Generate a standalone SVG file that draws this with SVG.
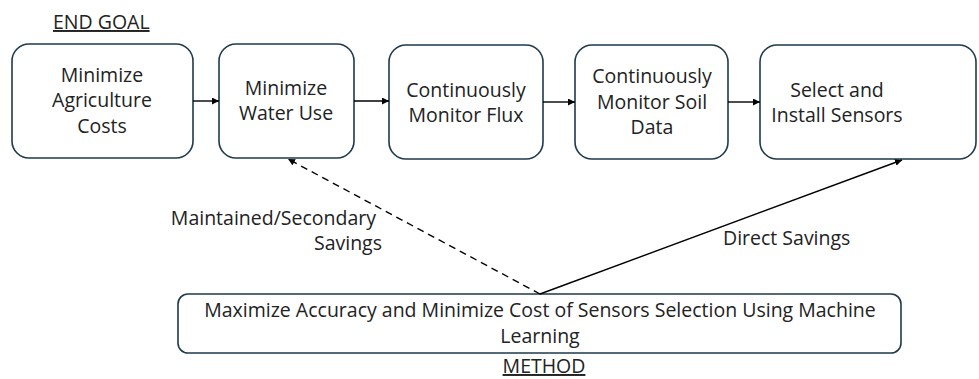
<svg xmlns="http://www.w3.org/2000/svg" width="979" height="379" viewBox="0 0 979 379">
<defs>
<marker id="ah" viewBox="0 0 10 10" refX="10" refY="5" markerWidth="7" markerHeight="7" markerUnits="userSpaceOnUse" orient="auto">
<path d="M0,0 L10,5 L0,10 Z" fill="#000"/>
</marker>
</defs>
<style>
.box{fill:#fff;stroke:#1e3a4c;stroke-width:1.6}
.t{font-family:"Open Sans","Liberation Sans",sans-serif;font-size:19.5px;fill:#222;text-anchor:middle}
.l{font-family:"Open Sans","Liberation Sans",sans-serif;font-size:19.5px;fill:#222}
.c{stroke:#000;stroke-width:1.4;fill:none}
</style>
<rect width="979" height="379" fill="#fff"/>
<text class="l" x="53" y="29" text-decoration="underline">END GOAL</text>
<text class="l" x="544" y="373" text-anchor="middle" text-decoration="underline">METHOD</text>
<g id="n1"><rect class="box" x="12" y="44" width="181" height="114" rx="17"/>
<text class="t" x="102" y="82">Minimize</text><text class="t" x="102" y="107">Agriculture</text><text class="t" x="102" y="133">Costs</text></g>
<g id="n2"><rect class="box" x="219" y="44" width="135" height="114" rx="17"/>
<text class="t" x="286" y="95">Minimize</text><text class="t" x="286" y="120">Water Use</text></g>
<g id="n3"><rect class="box" x="389" y="45" width="154" height="114" rx="17"/>
<text class="t" x="466" y="97">Continuously</text><text class="t" x="466" y="122">Monitor Flux</text></g>
<g id="n4"><rect class="box" x="575" y="45" width="153" height="114" rx="17"/>
<text class="t" x="652" y="83">Continuously</text><text class="t" x="652" y="109">Monitor Soil</text><text class="t" x="652" y="134">Data</text></g>
<g id="n5"><rect class="box" x="760" y="45" width="216" height="114" rx="17"/>
<text class="t" x="837" y="97">Select and</text><text class="t" x="837" y="122">Install Sensors</text></g>
<g id="n6"><rect class="box" x="178" y="294" width="723" height="59" rx="10"/>
<text class="t" x="540" y="317">Maximize Accuracy and Minimize Cost of Sensors Selection Using Machine</text>
<text class="t" x="540" y="343">Learning</text></g>
<g id="connectors">
<line class="c" x1="193" y1="101" x2="219" y2="101" marker-end="url(#ah)"/>
<line class="c" x1="354" y1="101" x2="389" y2="101" marker-end="url(#ah)"/>
<line class="c" x1="543" y1="102" x2="575" y2="102" marker-end="url(#ah)"/>
<line class="c" x1="728" y1="102" x2="760" y2="102" marker-end="url(#ah)"/>
<line class="c" x1="540" y1="294" x2="288" y2="159" stroke-dasharray="7,5" marker-end="url(#ah)"/>
<line class="c" x1="540" y1="294" x2="902" y2="160" marker-end="url(#ah)"/>
<text class="l" x="376" y="225" text-anchor="end">Maintained/Secondary</text>
<text class="l" x="382" y="250" text-anchor="end">Savings</text>
<text class="l" x="723" y="245">Direct Savings</text>
</g>
</svg>
